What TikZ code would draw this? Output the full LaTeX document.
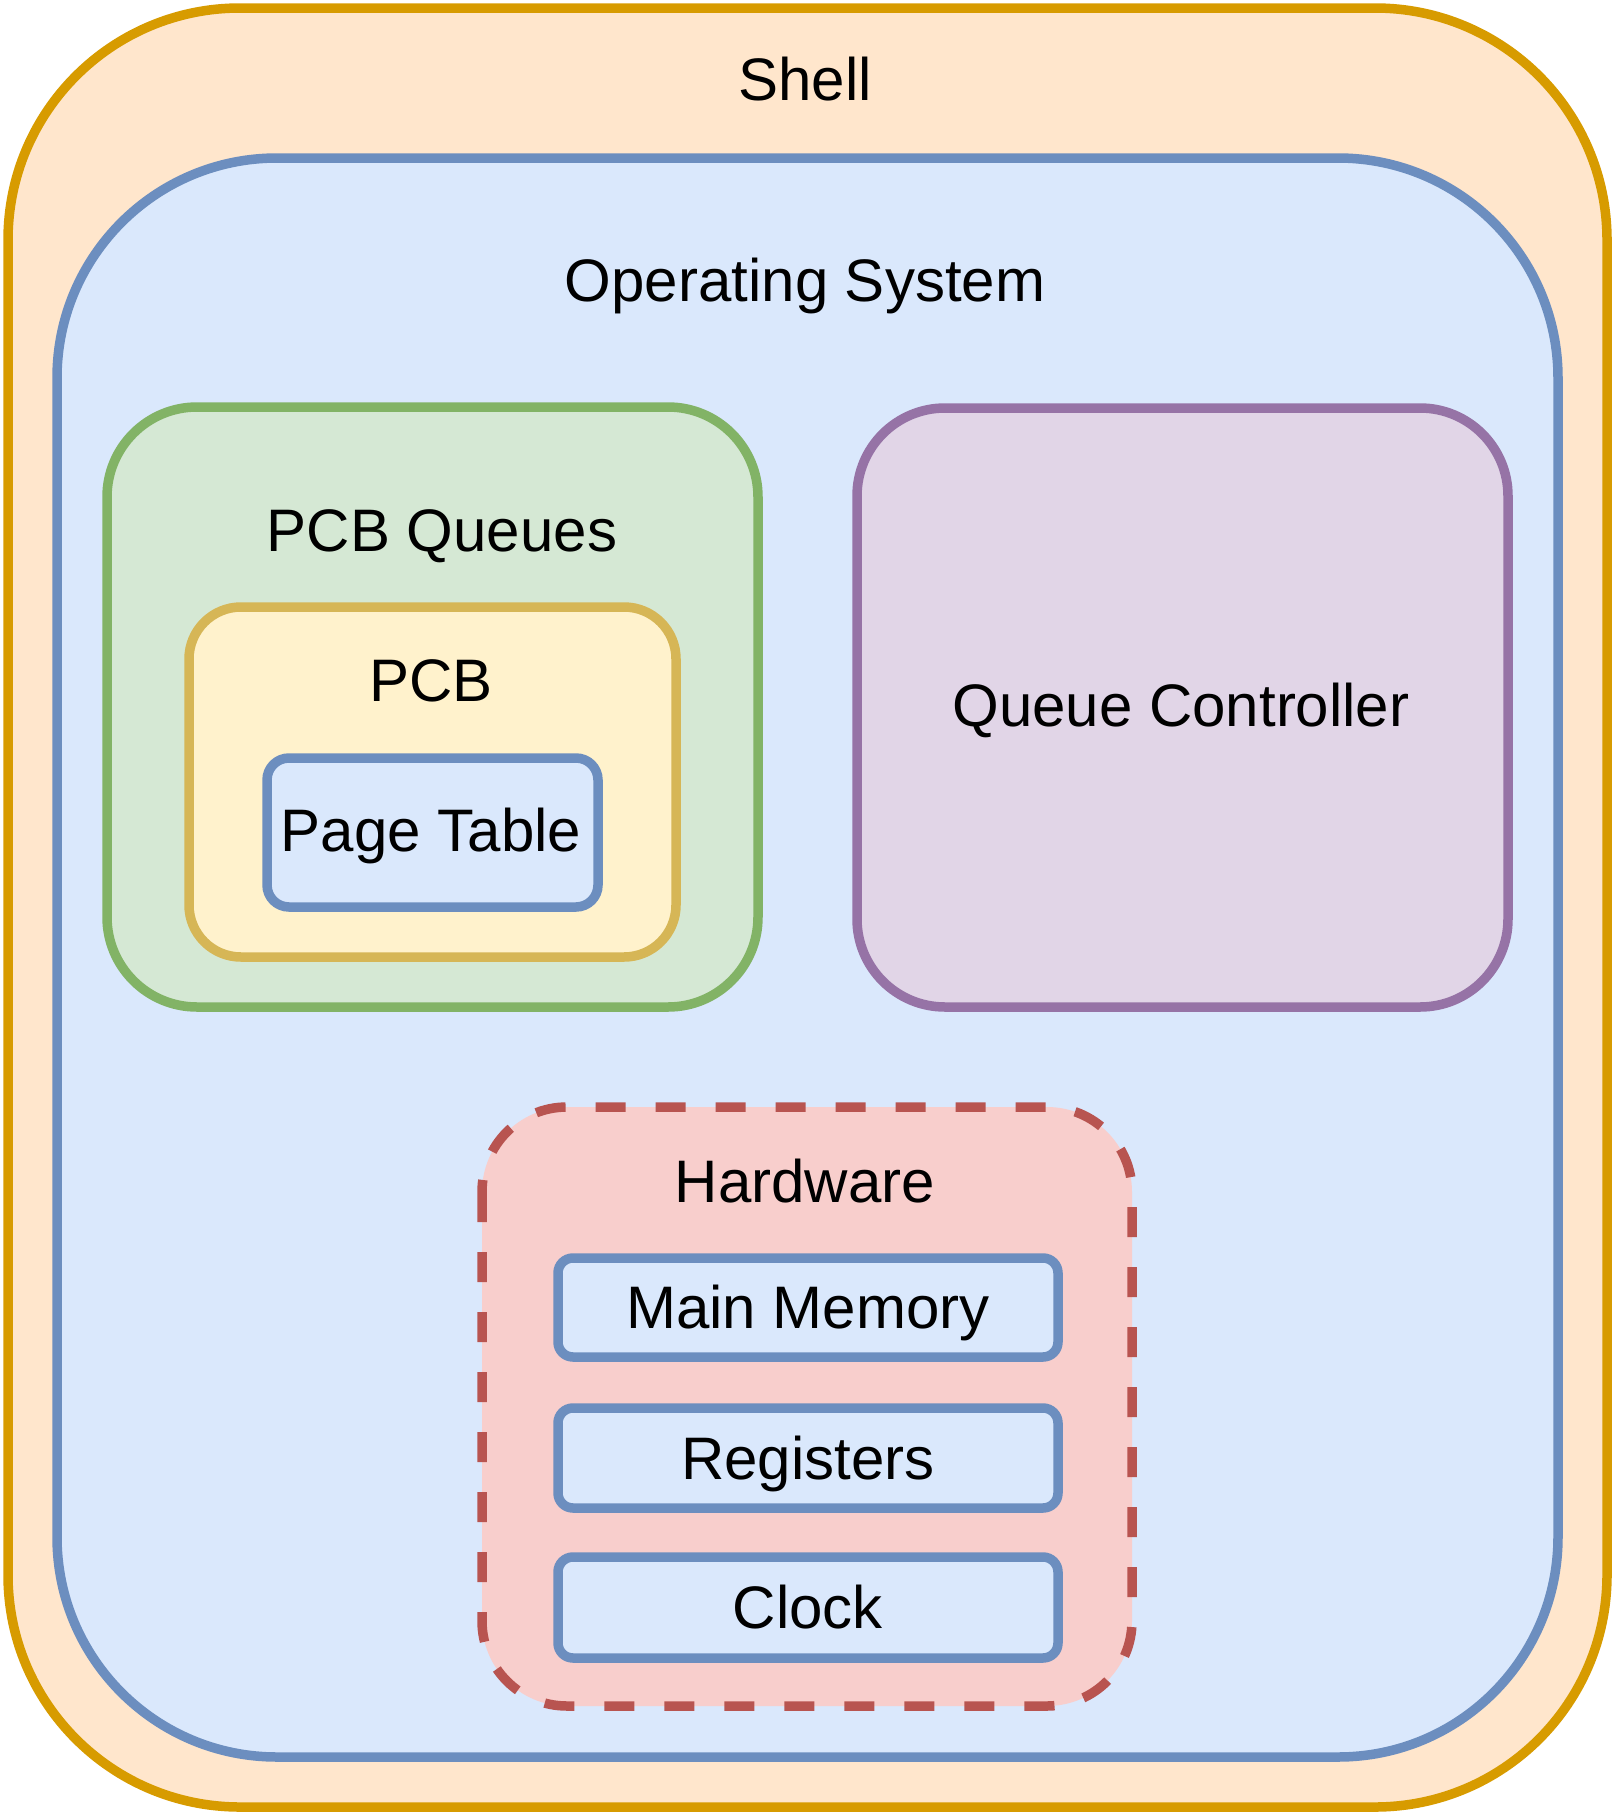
\documentclass[tikz,border=0pt]{standalone}
\usepackage{fontspec}
\setmainfont{Liberation Sans}
\definecolor{shellFill}{HTML}{FFE6CC}
\definecolor{shellLine}{HTML}{D79B00}
\definecolor{osFill}{HTML}{DAE8FC}
\definecolor{osLine}{HTML}{6C8EBF}
\definecolor{queueFill}{HTML}{D5E8D4}
\definecolor{queueLine}{HTML}{82B366}
\definecolor{pcbFill}{HTML}{FFF2CC}
\definecolor{pcbLine}{HTML}{D6B656}
\definecolor{ctrlFill}{HTML}{E1D5E7}
\definecolor{ctrlLine}{HTML}{9673A6}
\definecolor{hwFill}{HTML}{F8CECC}
\definecolor{hwLine}{HTML}{B85450}
\begin{document}
\begin{tikzpicture}[x=1pt,y=-1pt,
    box/.style={line width=9.5pt},
    lbl/.style={inner sep=0pt, text height=43pt, text depth=0pt, font=\fontsize{60}{72}\selectfont}]
    	\useasboundingbox (0,0) rectangle (1615,1815);
    	\draw[box, draw=shellLine, fill=shellFill, rounded corners=232pt] (8,8) rectangle (1607,1807);
    	\draw[box, draw=osLine, fill=osFill, rounded corners=220pt] (57,158) rectangle (1558,1757);
    	
    	\draw[box, draw=queueLine, fill=queueFill, rounded corners=90pt] (107,407) rectangle (758,1007);
    	\draw[box, draw=pcbLine, fill=pcbFill, rounded corners=52pt] (189,607) rectangle (676,957);
    	\draw[box, draw=osLine, fill=osFill, rounded corners=22pt] (267,758) rectangle (598,907);
    	
    	\draw[box, draw=ctrlLine, fill=ctrlFill, rounded corners=88pt] (857,408) rectangle (1508,1007);
    	
    	\draw[box, draw=hwLine, fill=hwFill, rounded corners=85pt, dash pattern=on 30pt off 30pt] (482,1107) rectangle (1132,1706);
    	\draw[box, draw=osLine, fill=osFill, rounded corners=15pt] (558,1258) rectangle (1058,1357);
    	\draw[box, draw=osLine, fill=osFill, rounded corners=15pt] (558,1408) rectangle (1058,1508);
    	\draw[box, draw=osLine, fill=osFill, rounded corners=15pt] (558,1557) rectangle (1058,1658);
    	
    	\node[lbl] (shell) at (805,79){Shell};
    	\node[lbl] (os) at (805,280){Operating System};
    	\node[lbl] (queues) at (442,530){PCB Queues};
    	\node[lbl] (pcb) at (431,680){PCB};
    	\node[lbl] (pagetable) at (431,830){Page Table};
    	\node[lbl] (controller) at (1181,705){Queue Controller};
    	\node[lbl] (hardware) at (805,1181){Hardware};
    	\node[lbl] (memory) at (808,1307){Main Memory};
    	\node[lbl] (registers) at (808,1458){Registers};
    	\node[lbl] (clock) at (808,1607){Clock};
\end{tikzpicture}
\end{document}
